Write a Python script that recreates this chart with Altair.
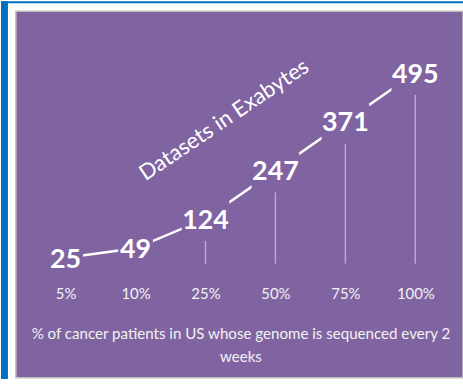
import altair as alt
import pandas as pd

categories = ["5%", "10%", "25%", "50%", "75%", "100%"]
values = [25, 49, 124, 247, 371, 495]
labels = ["25", "49", "124", "247", "371", "495"]

PURPLE = "#8064A2"
BLUE = "#0070C0"
FONT = "Lato"

df = pd.DataFrame({"cat": categories, "value": values, "label": labels,
                   "idx": list(range(len(categories)))})

x_enc = alt.X("cat:O", sort=categories,
              scale=alt.Scale(type="point", range=[50, 402], padding=0),
              axis=alt.Axis(title=["% of cancer patients in US whose genome is sequenced every 2", "weeks"],
                            orient="bottom", offset=-98, domain=False, ticks=False, tickSize=0,
                            labelPadding=6, labelAngle=0, labelFont=FONT, labelFontSize=15,
                            labelColor="#F2F2F2", titleFont=FONT, titleFontSize=15.2,
                            titleFontWeight="normal", titleColor="#F2F2F2",
                            titleBaseline="top", titleY=46, titleLineHeight=24, grid=False))
y_enc = alt.Y("value:Q", scale=alt.Scale(domain=[-280, 651.5], nice=False, zero=False),
              axis=alt.Axis(title="Datasets in Exabytes", labels=False, ticks=False, domain=False,
                            grid=False, titleAngle=326, titleX=209, titleY=109,
                            titleAlign="center", titleBaseline="middle", titleFont=FONT,
                            titleFontSize=22, titleFontWeight="normal", titleColor="#FFFFFF"))

base = alt.Chart(df)

drops = base.mark_rule(color="white", opacity=0.45, strokeWidth=1.5, yOffset=22, y2Offset=-4).encode(
    x=x_enc, y=y_enc, y2=alt.datum(0))

line = base.mark_line(color="white", strokeWidth=2.5).encode(
    x=x_enc, y=y_enc, order=alt.Order("idx:Q"))

box3 = "M-4.8,-3.6H4.8V4.4H-4.8Z"
box2 = "M-3.5,-3.6H3.5V4.4H-3.5Z"
boxes_big = base.transform_filter("datum.value >= 100").mark_point(
    shape=box3, size=100, filled=True, fill=PURPLE, opacity=1, strokeWidth=0).encode(x=x_enc, y=y_enc)
boxes_small = base.transform_filter("datum.value < 100").mark_point(
    shape=box2, size=100, filled=True, fill=PURPLE, opacity=1, strokeWidth=0).encode(x=x_enc, y=y_enc)

text = base.mark_text(font=FONT, fontSize=27, fontWeight="bold", color="white",
                      baseline="middle", dy=2).encode(x=x_enc, y=y_enc, text="label:N")

border_df = pd.DataFrame({"a": [0]})
blue_v = alt.Chart(border_df).mark_rect(color=BLUE).encode(
    x=alt.value(-15), x2=alt.value(-8), y=alt.value(-10), y2=alt.value(378))
blue_h = alt.Chart(border_df).mark_rect(color=BLUE, cornerRadiusTopLeft=4).encode(
    x=alt.value(-15), x2=alt.value(450), y=alt.value(-10), y2=alt.value(-8))

chart = alt.layer(blue_v, blue_h, drops, line, boxes_big, boxes_small, text).properties(
    width=450, height=369,
    autosize=alt.AutoSizeParams(type="none"),
    padding={"left": 16, "top": 10, "right": 0, "bottom": 0},
    background="white",
).configure_view(fill=PURPLE, stroke="#BFBFBF", strokeWidth=1.5)

chart.save("out.html", embed_options={"renderer": "svg", "actions": False})
